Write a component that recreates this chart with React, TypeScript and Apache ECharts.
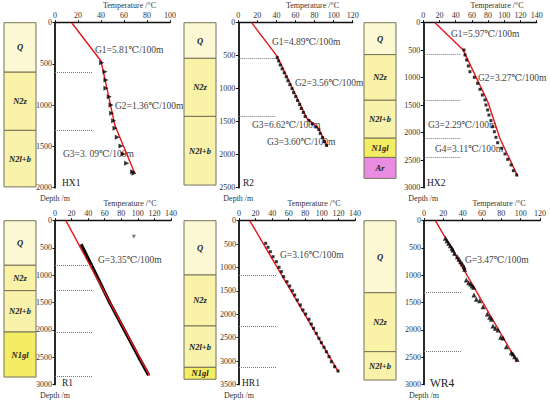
import React, { useEffect, useRef } from "react";
import * as echarts from "echarts";

// ---------- data ----------
const wells = ["HX1", "R2", "HX2", "R1", "HR1", "WR4"];
const tempMax = [100, 120, 140, 140, 140, 120];
const depthMax = [2000, 2500, 3000, 3000, 3500, 3000];

// fitted gradient lines [temperature, depth]
const hx1Line = [[14.5, 0], [40, 464], [52.2, 1250], [69.6, 1834]];
const r2Line = [[14, 0], [41, 515], [72, 1450], [84, 1600], [93.4, 1870]];
const hx2Line = [[14.4, 0], [49, 490], [80, 1450], [94.5, 2100], [116.5, 2790]];
const r1Line = [[13.2, 0], [114, 2840]];
const hr1Line = [[13, 0], [120, 3230]];
const wr4Line = [[11.8, 0], [96.5, 2590]];

// measured temperatures [temperature, depth]
const hx1Pts = [[40.6, 485], [43.5, 594], [44.3, 695], [44.3, 795], [47.2, 897], [48.7, 998], [49.3, 1098], [51, 1188], [52.2, 1280], [54.2, 1389], [57.4, 1494], [59.4, 1592], [62.3, 1705], [67.5, 1806], [68.7, 1826]];
const r2Pts = [[40.8, 530], [42.3, 580], [44, 640], [46, 700], [48.2, 760], [50.3, 820], [52, 880], [54.1, 940], [56.3, 1000], [58, 1060], [60.2, 1120], [62.1, 1180], [64.3, 1240], [66, 1300], [68.2, 1360], [70.1, 1420], [74, 1480], [77.5, 1530], [81.6, 1580], [84.5, 1620], [86, 1680], [88.4, 1740], [90.3, 1800], [92.6, 1860]];
const hx2Pts = [[50.2, 496], [51.5, 587], [53.5, 678], [55.6, 787], [57.6, 891], [63, 993], [67.1, 1102], [70, 1211], [72.9, 1315], [76.2, 1405], [77.4, 1496], [79.4, 1587], [81.1, 1678], [83.5, 1780], [85.6, 1891], [87.7, 1982], [89.7, 2084], [91.8, 2182], [96.8, 2284], [100.9, 2387], [104.2, 2484], [108.4, 2587], [111.2, 2691], [115.3, 2769]];
const r1Pts = [[31.5, 432], [50, 1000], [66, 1500], [83.5, 2000], [101, 2500], [113, 2830]];
const r1Stray = [[95.2, 293]];
const hr1Pts = [[32.2, 483], [35, 569], [37.8, 663], [41, 770], [45.1, 877], [48.3, 996], [51.1, 1090], [53.9, 1197], [57.9, 1304], [61.2, 1396], [64.4, 1497], [67.2, 1589], [70.4, 1696], [74, 1802], [77.2, 1909], [80.5, 1995], [84.5, 2108], [87.3, 2209], [90.1, 2301], [93.3, 2408], [96.5, 2514], [99.4, 2608], [102.6, 2707], [105.4, 2801], [108.6, 2908], [111.4, 3015], [115.4, 3122], [119.5, 3214]];
const wr4Pts = [[22.1, 322], [23.8, 366], [25.5, 414], [27.3, 458], [29, 505], [30, 537], [31.7, 597], [34.5, 659], [36.2, 707], [37.9, 751], [39.7, 793], [41.4, 842], [42.1, 890], [43.8, 1086], [46.2, 1136], [48.3, 1159], [49.7, 1196], [51.4, 1220], [51.7, 1361], [54.2, 1440], [57.6, 1465], [61.1, 1575], [65.5, 1709], [68, 1769], [69.7, 1806], [71.4, 1929], [73.8, 1971], [76.6, 2002], [79.3, 2136], [81.7, 2148], [85.2, 2308], [90.4, 2418], [92.1, 2441], [93.8, 2491], [96.2, 2538]];

// formation boundary depths (dotted lines)
const hx1Marks = [600, 1305];
const r2Marks = [540, 1420];
const hx2Marks = [580, 1410, 2100, 2450];
const r1Marks = [817, 1282, 2040, 2850];
const hr1Marks = [1161, 2251, 3130];
const wr4Marks = [1320, 2400];

// strata columns
const hx1Strata = ["Q", "N2z", "N2l+b"];
const hx1Bounds = [0, 600, 1305, 1990];
const r2Strata = ["Q", "N2z", "N2l+b"];
const r2Bounds = [0, 540, 1420, 2460];
const hx2Strata = ["Q", "N2z", "N2l+b", "N1gl", "Ar"];
const hx2Bounds = [0, 580, 1410, 2100, 2450, 2830];
const r1Strata = ["Q", "N2z", "N2l+b", "N1gl"];
const r1Bounds = [0, 817, 1282, 2040, 2865];
const hr1Strata = ["Q", "N2z", "N2l+b", "N1gl"];
const hr1Bounds = [0, 1161, 2251, 3135, 3390];
const wr4Strata = ["Q", "N2z", "N2l+b"];
const wr4Bounds = [0, 1320, 2400, 2920];

// gradient annotations
const hx1Notes = ["G1=5.81℃/100m", "G2=1.36℃/100m", "G3=3. 09℃/100m"];
const r2Notes = ["G1=4.89℃/100m", "G2=3.56℃/100m", "G3=6.62℃/100m", "G3=3.60℃/100m"];
const hx2Notes = ["G1=5.97℃/100m", "G2=3.27℃/100m", "G3=2.29℃/100m", "G4=3.11℃/100m"];
const r1Notes = ["G=3.35℃/100m"];
const hr1Notes = ["G=3.16℃/100m"];
const wr4Notes = ["G=3.47℃/100m"];

// ---------- styling / layout ----------
const FONT = "'Liberation Serif', 'DejaVu Serif', serif";
const strataColors: Record<string, string> = {
  Q: "#fcf8d3",
  N2z: "#f9f2a7",
  "N2l+b": "#f9f2aa",
  N1gl: "#f4ec62",
  Ar: "#ea8de2",
};
const rowTop = [22.7, 220.7];
const rowH = [165, 163.7];
const panelLeft = [55, 238.3, 423.3, 55, 239, 424];
const panelW = [115, 114.4, 113.4, 116, 116, 116];
const colLeft = [4, 184, 364, 4, 184, 364];
const colW = 32;
const dashPx = 37;

const notePos = [
  [[95, 49.5], [115, 106], [63, 154]],
  [[272, 41.5], [295, 83], [252, 125], [267, 142]],
  [[451, 33.5], [478, 77.5], [428, 125], [435, 148.5]],
  [[98, 259.5]],
  [[280, 255]],
  [[465, 259.5]],
];
const wellPos = [[62, 183], [243, 183], [427, 183], [62, 383], [242, 383], [430, 383]];
const wellSize = [9.5, 9.5, 9.5, 9.5, 9.5, 11.5];

const App = () => {
  const ref = useRef<HTMLDivElement>(null);
  useEffect(() => {
    const chart = echarts.init(ref.current!, null, { renderer: "svg" });
    const lines = [hx1Line, r2Line, hx2Line, r1Line, hr1Line, wr4Line];
    const pts = [hx1Pts, r2Pts, hx2Pts, r1Pts, hr1Pts, wr4Pts];
    const marks = [hx1Marks, r2Marks, hx2Marks, r1Marks, hr1Marks, wr4Marks];
    const strata = [hx1Strata, r2Strata, hx2Strata, r1Strata, hr1Strata, wr4Strata];
    const bounds = [hx1Bounds, r2Bounds, hx2Bounds, r1Bounds, hr1Bounds, wr4Bounds];
    const notes = [hx1Notes, r2Notes, hx2Notes, r1Notes, hr1Notes, wr4Notes];

    const grid: any[] = [];
    const xAxis: any[] = [];
    const yAxis: any[] = [];
    const series: any[] = [];
    const graphic: any[] = [];

    for (let i = 0; i < 6; i++) {
      const row = i < 3 ? 0 : 1;
      grid.push({ left: panelLeft[i], top: rowTop[row], width: panelW[i], height: rowH[row], containLabel: false, outerBoundsMode: "none" });
      xAxis.push({
        type: "value", gridIndex: i, position: "top", min: 0, max: tempMax[i], interval: 20,
        name: "Temperature /°C", nameLocation: "middle", nameGap: 13,
        nameTextStyle: { fontFamily: FONT, fontSize: 8, color: "#333", padding: [0, 0, 0, 34] },
        axisLine: { show: true, lineStyle: { color: "#111", width: 1.3 } },
        axisTick: { show: true, length: 2.5, lineStyle: { color: "#111" } },
        axisLabel: { fontFamily: FONT, fontSize: 8, color: "#333", margin: 3, formatter: (v: number) => String(v) },
        splitLine: { show: false },
      });
      yAxis.push({
        type: "value", gridIndex: i, inverse: true, min: 0, max: depthMax[i], interval: 500,
        name: "Depth /m", nameLocation: "end", nameGap: 7,
        nameTextStyle: { fontFamily: FONT, fontSize: 8, color: "#333" },
        axisLine: { show: true, lineStyle: { color: "#111", width: 1.8 } },
        axisTick: { show: true, length: 2.5, lineStyle: { color: "#111" } },
        axisLabel: { fontFamily: FONT, fontSize: 8, color: "#333", margin: 3, formatter: (v: number) => String(v) },
        splitLine: { show: false },
      });
    }
    for (let i = 0; i < 6; i++) {
      const row = i < 3 ? 0 : 1;
      grid.push({ left: colLeft[i], top: rowTop[row], width: colW, height: rowH[row], containLabel: false, outerBoundsMode: "none" });
      xAxis.push({ type: "value", gridIndex: 6 + i, min: 0, max: 1, show: false });
      yAxis.push({ type: "value", gridIndex: 6 + i, min: 0, max: depthMax[i], inverse: true, show: false });
    }

    const ptStyle = [
      { type: "scatter", symbol: "triangle", symbolRotate: -90, symbolSize: 5 },
      { type: "scatter", symbol: "rect", symbolSize: 3 },
      { type: "scatter", symbol: "rect", symbolSize: 3 },
      null,
      { type: "scatter", symbol: "rect", symbolSize: 3 },
      { type: "scatter", symbol: "triangle", symbolSize: 5 },
    ];

    for (let i = 0; i < 6; i++) {
      const dashEnd = (dashPx / panelW[i]) * tempMax[i];
      if (i === 3) {
        series.push({
          type: "line", xAxisIndex: i, yAxisIndex: i, data: pts[i], showSymbol: false,
          lineStyle: { color: "#000", width: 3.2 }, z: 2,
        });
        series.push({
          type: "scatter", xAxisIndex: i, yAxisIndex: i, data: r1Stray, symbol: "triangle",
          symbolRotate: 180, symbolSize: 4, itemStyle: { color: "#555" }, z: 2,
        });
      }
      series.push({
        type: "line", xAxisIndex: i, yAxisIndex: i, data: lines[i], showSymbol: false,
        lineStyle: { color: "#e8141c", width: 1.4 }, z: 3,
        markLine: {
          silent: true, symbol: ["none", "none"], label: { show: false },
          lineStyle: { type: "dotted", color: "#777", width: 1 },
          data: marks[i].map((d) => [{ coord: [0, d] }, { coord: [dashEnd, d] }]),
        },
      });
      if (i !== 3) {
        series.push({
          ...ptStyle[i], xAxisIndex: i, yAxisIndex: i, data: pts[i],
          itemStyle: { color: "#000" }, z: 4,
        });
      }
      const names = strata[i];
      const b = bounds[i];
      series.push({
        type: "custom", xAxisIndex: 6 + i, yAxisIndex: 6 + i,
        data: names.map((_, k) => [b[k], b[k + 1]]),
        renderItem: (params: any, api: any) => {
          const a = api.coord([0, api.value(0)]);
          const c = api.coord([1, api.value(1)]);
          const name = names[params.dataIndex];
          return {
            type: "group",
            children: [
              { type: "rect", shape: { x: a[0], y: a[1], width: c[0] - a[0], height: c[1] - a[1] }, style: { fill: strataColors[name], stroke: "#77735a", lineWidth: 1 } },
              { type: "text", x: (a[0] + c[0]) / 2, y: (a[1] + c[1]) / 2, style: { text: name, fill: "#222", font: `italic bold 8.5px ${FONT}`, align: "center", verticalAlign: "middle", textAlign: "center", textVerticalAlign: "middle" } },
            ],
          };
        },
      });
      notes[i].forEach((t, k) => {
        graphic.push({ type: "text", x: notePos[i][k][0], y: notePos[i][k][1], style: { text: t, fill: "#444", font: `9.5px ${FONT}`, verticalAlign: "middle", textVerticalAlign: "middle" } });
      });
      graphic.push({ type: "text", x: wellPos[i][0], y: wellPos[i][1], style: { text: wells[i], fill: "#222", font: `${wellSize[i]}px ${FONT}`, verticalAlign: "middle", textVerticalAlign: "middle" } });
    }

    chart.setOption({
      animation: false,
      backgroundColor: "#fff",
      textStyle: { fontFamily: FONT },
      grid, xAxis, yAxis, series, graphic,
    });
    return () => chart.dispose();
  }, []);
  return <div ref={ref} style={{ position: "fixed", left: 0, top: 0, width: 550, height: 402 }} />;
};

export default App;
